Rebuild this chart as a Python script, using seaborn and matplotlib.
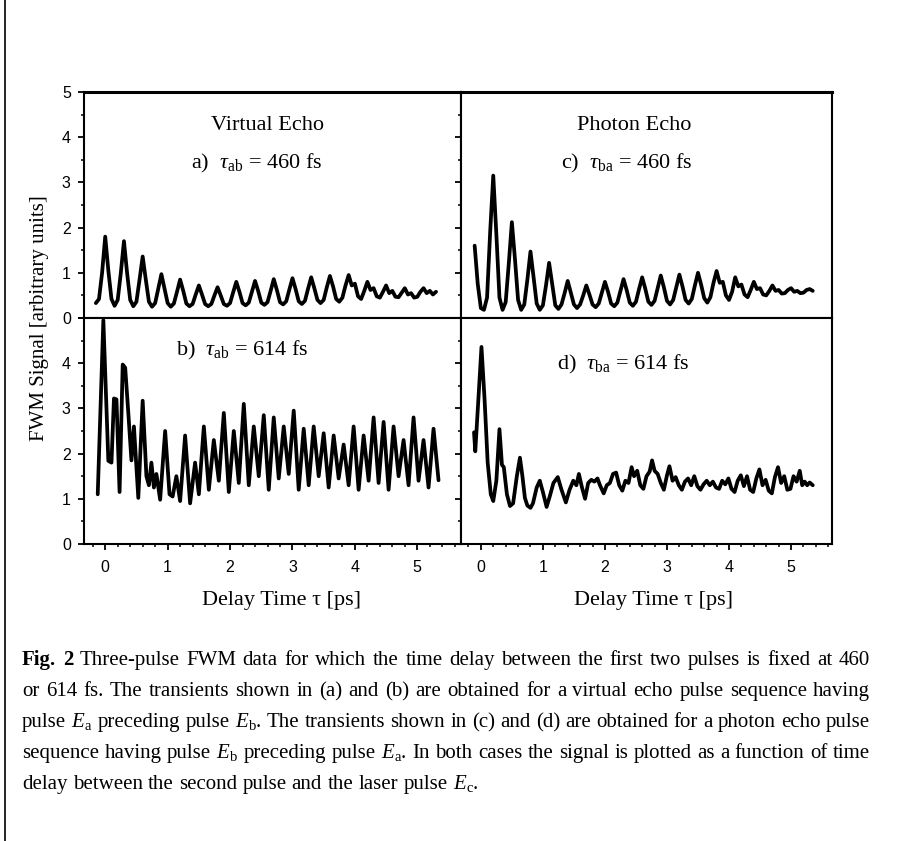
import numpy as np
import pandas as pd
import matplotlib
matplotlib.use('Agg')
import matplotlib.pyplot as plt
from matplotlib.lines import Line2D
from matplotlib.ticker import MultipleLocator
import seaborn as sns

sns.set_theme(style='ticks')
plt.rcParams['font.family'] = ['Liberation Serif', 'DejaVu Serif']
plt.rcParams['mathtext.fontset'] = 'custom'
plt.rcParams['mathtext.rm'] = 'Liberation Serif'
plt.rcParams['mathtext.it'] = 'Liberation Serif:italic'
plt.rcParams['mathtext.bf'] = 'Liberation Serif:bold'

# ---------------------------------------------------------------
# data (signal in arbitrary units, delay in ps)
# ---------------------------------------------------------------
# (a) virtual echo, tau_ab = 460 fs  (sampled every 0.05 ps from -0.15 ps)
va_start, va_step = -0.15, 0.05
va_y = [0.33, 0.42, 1.00, 1.80, 1.05, 0.42, 0.27, 0.40, 1.00, 1.70,
        1.00, 0.40, 0.26, 0.36, 0.85, 1.36, 0.85, 0.36, 0.25, 0.33,
        0.65, 0.97, 0.65, 0.33, 0.25, 0.32, 0.58, 0.85, 0.60, 0.32,
        0.26, 0.31, 0.52, 0.72, 0.52, 0.31, 0.26, 0.31, 0.50, 0.68,
        0.50, 0.31, 0.27, 0.33, 0.57, 0.80, 0.58, 0.33, 0.28, 0.34,
        0.58, 0.82, 0.60, 0.34, 0.29, 0.35, 0.60, 0.86, 0.62, 0.35,
        0.30, 0.37, 0.63, 0.88, 0.64, 0.37, 0.31, 0.38, 0.65, 0.90,
        0.66, 0.40, 0.33, 0.40, 0.68, 0.93, 0.70, 0.42, 0.36, 0.45,
        0.72, 0.95, 0.72, 0.76, 0.48, 0.42, 0.60, 0.80, 0.62, 0.66,
        0.48, 0.45, 0.58, 0.72, 0.55, 0.60, 0.47, 0.46, 0.56, 0.66,
        0.52, 0.55, 0.45, 0.47, 0.58, 0.66, 0.55, 0.60, 0.52, 0.58]

# (c) photon echo, tau_ba = 460 fs  (sampled every 0.05 ps from -0.10 ps)
pe_start, pe_step = -0.10, 0.05
pe_y = [1.60, 0.75, 0.22, 0.18, 0.45, 1.90, 3.15, 1.85, 0.45, 0.18,
        0.35, 1.20, 2.12, 1.30, 0.40, 0.18, 0.30, 0.85, 1.47, 0.90,
        0.32, 0.18, 0.28, 0.72, 1.22, 0.75, 0.28, 0.20, 0.30, 0.55,
        0.82, 0.56, 0.30, 0.22, 0.30, 0.50, 0.72, 0.52, 0.30, 0.24,
        0.32, 0.56, 0.80, 0.58, 0.32, 0.26, 0.34, 0.60, 0.86, 0.62,
        0.34, 0.27, 0.36, 0.64, 0.90, 0.65, 0.36, 0.29, 0.38, 0.66,
        0.94, 0.68, 0.38, 0.30, 0.40, 0.68, 0.96, 0.70, 0.40, 0.32,
        0.42, 0.72, 1.00, 0.74, 0.44, 0.34, 0.46, 0.78, 1.04, 0.78,
        0.80, 0.50, 0.40, 0.58, 0.90, 0.70, 0.74, 0.52, 0.46, 0.62,
        0.80, 0.64, 0.66, 0.52, 0.50, 0.60, 0.72, 0.60, 0.62, 0.54,
        0.55, 0.62, 0.66, 0.58, 0.60, 0.55, 0.56, 0.62, 0.64, 0.60]

# (b) virtual echo, tau_ab = 614 fs
vb_x = [-0.12, -0.03, 0.05, 0.10, 0.14, 0.18, 0.23, 0.28, 0.32, 0.37,
        0.42, 0.46, 0.53, 0.60, 0.66, 0.70, 0.74, 0.78, 0.82, 0.88,
        0.96, 1.03, 1.08, 1.14, 1.20, 1.28, 1.36, 1.44, 1.50,
        1.58, 1.66, 1.74, 1.82, 1.90, 1.98, 2.06, 2.14, 2.22, 2.30,
        2.38, 2.46, 2.54, 2.62, 2.70, 2.78, 2.86, 2.94, 3.02, 3.10,
        3.18, 3.26, 3.34, 3.42, 3.50, 3.58, 3.66, 3.74, 3.82, 3.90,
        3.98, 4.06, 4.14, 4.22, 4.30, 4.38, 4.46, 4.54, 4.62, 4.70,
        4.78, 4.86, 4.94, 5.02, 5.10, 5.18, 5.26, 5.34]
vb_y = [1.10, 4.95, 1.84, 1.80, 3.22, 3.20, 1.15, 3.97, 3.90, 2.90,
        1.85, 2.60, 1.02, 3.17, 1.50, 1.30, 1.80, 1.25, 1.55, 0.98,
        2.50, 1.10, 1.05, 1.50, 0.95, 2.40, 0.90, 1.80, 1.10,
        2.60, 1.20, 2.30, 1.40, 2.90, 1.15, 2.50, 1.35, 3.10, 1.30,
        2.60, 1.50, 2.85, 1.20, 2.80, 1.45, 2.60, 1.55, 2.95, 1.20,
        2.55, 1.30, 2.60, 1.50, 2.45, 1.25, 2.40, 1.45, 2.20, 1.30,
        2.60, 1.20, 2.40, 1.40, 2.80, 1.35, 2.70, 1.20, 2.60, 1.50,
        2.30, 1.30, 2.80, 1.40, 2.30, 1.25, 2.55, 1.41]

# (d) photon echo, tau_ba = 614 fs
pd_x = [-0.11, -0.09, -0.04, 0.01, 0.06, 0.11, 0.16, 0.20, 0.25, 0.30,
        0.34, 0.37, 0.42, 0.47, 0.52, 0.58, 0.63, 0.67, 0.71, 0.75,
        0.80, 0.84, 0.90, 0.95, 1.00, 1.06, 1.11, 1.17, 1.24, 1.30,
        1.37, 1.43, 1.49, 1.54, 1.58, 1.63, 1.68, 1.73, 1.78, 1.83,
        1.88, 1.92, 1.98, 2.03, 2.08, 2.13, 2.18, 2.23, 2.28, 2.33,
        2.38, 2.43, 2.47, 2.52, 2.57, 2.62, 2.67, 2.72, 2.76, 2.80,
        2.85, 2.90, 2.95, 3.00, 3.04, 3.09, 3.14, 3.19, 3.24, 3.29,
        3.34, 3.39, 3.44, 3.49, 3.54, 3.59, 3.64, 3.69, 3.74, 3.79,
        3.84, 3.89, 3.94, 3.99, 4.04, 4.09, 4.14, 4.19, 4.24, 4.29,
        4.34, 4.39, 4.44, 4.49, 4.54, 4.59, 4.64, 4.69, 4.74, 4.79,
        4.84, 4.89, 4.94, 4.99, 5.04, 5.09, 5.14, 5.18, 5.22, 5.26,
        5.30, 5.35]
pd_y = [2.47, 2.05, 3.20, 4.36, 3.20, 1.80, 1.10, 0.95, 1.40, 2.54,
        1.75, 1.70, 1.10, 0.84, 0.90, 1.50, 1.91, 1.50, 1.02, 0.85,
        0.80, 0.90, 1.25, 1.40, 1.15, 0.82, 1.05, 1.35, 1.48, 1.20,
        0.92, 1.20, 1.40, 1.30, 1.55, 1.25, 1.00, 1.35, 1.42, 1.38,
        1.45, 1.30, 1.12, 1.30, 1.35, 1.55, 1.58, 1.30, 1.18, 1.40,
        1.35, 1.70, 1.50, 1.62, 1.30, 1.22, 1.50, 1.60, 1.85, 1.62,
        1.55, 1.35, 1.20, 1.52, 1.72, 1.40, 1.48, 1.30, 1.20, 1.38,
        1.45, 1.30, 1.50, 1.28, 1.20, 1.32, 1.40, 1.30, 1.38, 1.25,
        1.22, 1.40, 1.32, 1.45, 1.22, 1.15, 1.40, 1.52, 1.28, 1.50,
        1.20, 1.15, 1.45, 1.65, 1.30, 1.42, 1.18, 1.12, 1.48, 1.70,
        1.35, 1.50, 1.20, 1.22, 1.50, 1.38, 1.62, 1.30, 1.38, 1.30,
        1.36, 1.30]

assert len(vb_x) == len(vb_y) and len(pd_x) == len(pd_y)

va_x = np.round(va_start + va_step * np.arange(len(va_y)), 2)
pe_x = np.round(pe_start + pe_step * np.arange(len(pe_y)), 2)

panels = {
    'a': pd.DataFrame({'delay': va_x, 'signal': va_y}),
    'c': pd.DataFrame({'delay': pe_x, 'signal': pe_y}),
    'b': pd.DataFrame({'delay': vb_x, 'signal': vb_y}),
    'd': pd.DataFrame({'delay': pd_x, 'signal': pd_y}),
}

headers = {'a': 'Virtual Echo', 'c': 'Photon Echo'}
labels = {
    'a': r'a)  $\tau_\mathrm{ab}$ = 460 fs',
    'c': r'c)  $\tau_\mathrm{ba}$ = 460 fs',
    'b': r'b)  $\tau_\mathrm{ab}$ = 614 fs',
    'd': r'd)  $\tau_\mathrm{ba}$ = 614 fs',
}

caption = [
    'Fig. 2 Three-pulse FWM data for which the time delay between the first two pulses is fixed at 460',
    'or 614 fs. The transients shown in (a) and (b) are obtained for a virtual echo pulse sequence having',
    r'pulse $E_\mathrm{a}$ preceding pulse $E_\mathrm{b}$. The transients shown in (c) and (d) are obtained for a photon echo pulse',
    r'sequence having pulse $E_\mathrm{b}$ preceding pulse $E_\mathrm{a}$. In both cases the signal is plotted as a function of time',
    r'delay between the second pulse and the laser pulse $E_\mathrm{c}$.',
]

# ---------------------------------------------------------------
# figure layout (pixel geometry of the scanned figure)
# ---------------------------------------------------------------
W, H = 899, 841
fig = plt.figure(figsize=(W / 100, H / 100), dpi=100)

def px_axes(x0, y0, x1, y1):
    return fig.add_axes([x0 / W, 1 - y1 / H, (x1 - x0) / W, (y1 - y0) / H])

axes = {
    'a': px_axes(84, 92, 461, 318),
    'c': px_axes(461, 92, 832, 318),
    'b': px_axes(84, 318, 461, 544),
    'd': px_axes(461, 318, 832, 544),
}
xlims = {'a': (-0.34, 5.70), 'b': (-0.34, 5.70), 'c': (-0.32, 5.66), 'd': (-0.32, 5.66)}
label_pos = {'a': (0.459, 0.662), 'c': (0.447, 0.662), 'b': (0.421, 0.832), 'd': (0.437, 0.774)}

for key, ax in axes.items():
    sns.lineplot(data=panels[key], x='delay', y='signal', ax=ax, color='black',
                 linewidth=2.7, estimator=None, sort=False)
    ax.set_xlim(*xlims[key])
    ax.set_ylim(0, 5)
    ax.set_xlabel('')
    ax.set_ylabel('')
    for s in ax.spines.values():
        s.set_visible(True)
        s.set_linewidth(1.5)
        s.set_color('black')
    ax.spines['top'].set_linewidth(2.2 if key in 'ac' else 1.5)

    ax.xaxis.set_major_locator(MultipleLocator(1))
    ax.xaxis.set_minor_locator(MultipleLocator(0.2))
    ax.set_yticks([0, 1, 2, 3, 4, 5])
    ax.yaxis.set_minor_locator(MultipleLocator(0.5))
    if key in 'bd':
        ax.set_yticklabels(['0', '1', '2', '3', '4', ''])
    ax.tick_params(which='major', direction='out', length=4.5, width=1.3,
                   color='black', labelsize=11.5, labelcolor='black',
                   labelfontfamily='Liberation Sans')
    ax.tick_params(which='minor', direction='out', length=2, width=1.1, color='black')
    ax.tick_params(axis='x', which='major', pad=7)
    ax.tick_params(axis='y', which='major', pad=5)
    ax.tick_params(axis='x', labelbottom=key in 'bd')
    ax.tick_params(axis='y', labelleft=key in 'ab')

    tx, ty = label_pos[key]
    ax.text(tx, ty, labels[key], transform=ax.transAxes, ha='center',
            va='baseline', fontsize=16, color='black')
    if key in headers:
        ax.text(0.488 if key == 'a' else 0.466, 0.832, headers[key],
                transform=ax.transAxes, ha='center', va='baseline',
                fontsize=16, color='black')
    if key in 'bd':
        ax.text(0.524 if key == 'b' else 0.518, -0.27, 'Delay Time τ [ps]',
                transform=ax.transAxes, ha='center', va='baseline',
                fontsize=16, color='black')

fig.text(40 / W, 1 - 318 / H, 'FWM Signal [arbitrary units]', rotation=90,
         ha='center', va='center', fontsize=15, color='black')

# page border on the left
fig.add_artist(Line2D([5 / W, 5 / W], [0, 1], transform=fig.transFigure,
                      color='black', linewidth=1.2))

# ---------------------------------------------------------------
# justified caption, sized so the fullest line fills the text width
# ---------------------------------------------------------------
renderer = fig.canvas.get_renderer()
cap_left, cap_right = 22, 870
baselines = [665, 696, 727, 758, 789]

def space_width(fs):
    probe = fig.text(0, 0, 'x x', fontsize=fs)
    w = probe.get_window_extent(renderer).width
    probe.set_text('xx')
    w -= probe.get_window_extent(renderer).width
    probe.remove()
    return w

rows = []
for li, (line, yb) in enumerate(zip(caption, baselines)):
    arts = []
    for wi, w in enumerate(line.split(' ')):
        bold = (li == 0 and wi < 2)
        arts.append(fig.text(0, 1 - yb / H, w, fontsize=13, ha='left', va='baseline',
                             fontweight='bold' if bold else 'normal', color='black'))
    rows.append(arts)

def natural(arts, fs):
    return sum(t.get_window_extent(renderer).width for t in arts) + (len(arts) - 1) * space_width(fs)

widest = max(natural(r, 13) for r in rows[:-1])
cap_fs = 13 * (cap_right - cap_left) / widest * 0.995
sp = space_width(cap_fs)

for li, arts in enumerate(rows):
    for t in arts:
        t.set_fontsize(cap_fs)
    widths = [t.get_window_extent(renderer).width for t in arts]
    if li < len(rows) - 1:
        gap = (cap_right - cap_left - sum(widths)) / (len(arts) - 1)
    else:
        gap = sp
    x = cap_left
    for t, w in zip(arts, widths):
        t.set_x(x / W)
        x += w + gap

fig.savefig('out.png', dpi=100)
